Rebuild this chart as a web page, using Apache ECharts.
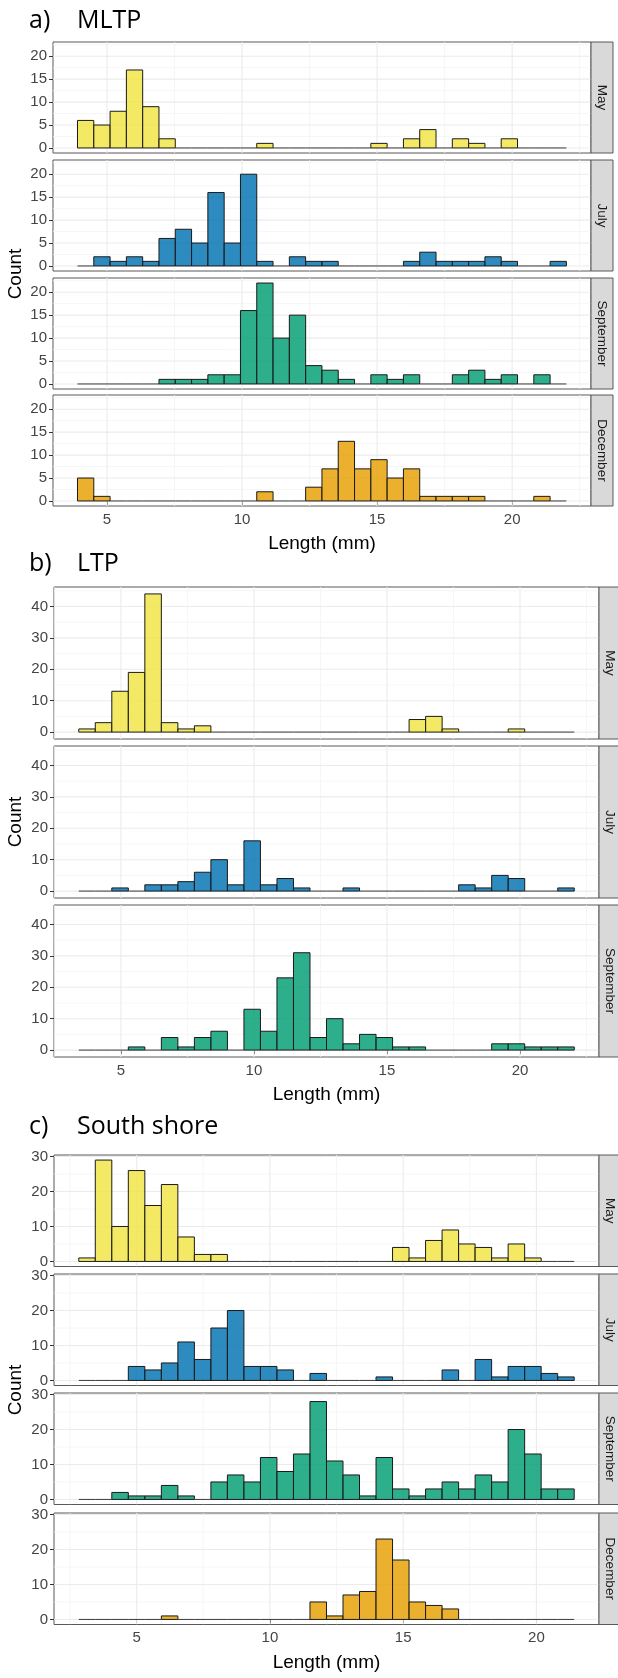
<!DOCTYPE html>
<html><head><meta charset="utf-8">
<script src="https://cdn.jsdelivr.net/npm/echarts@6/dist/echarts.min.js"></script>
<style>html,body{margin:0;padding:0;background:#fff}#c{width:618px;height:1678px}</style>
</head><body><div id="c"></div>
<script>
// ---------------- DATA ----------------
const monthsA = ['May', 'July', 'September', 'December'];
const monthsB = ['May', 'July', 'September'];
const monthsC = ['May', 'July', 'September', 'December'];

// histogram bin settings (30 bins per site)
const binStartA = 3.907, binWidthA = 0.6034;
const binStartB = 3.416, binWidthB = 0.6208;
const binStartC = 2.828, binWidthC = 0.6197;

const xTicks = [5, 10, 15, 20];
const xMinorTicks = [2.5, 7.5, 12.5, 17.5, 22.5];
const yTicksA = [0, 5, 10, 15, 20];
const yMinorA = [2.5, 7.5, 12.5, 17.5, 22.5];
const yTicksB = [0, 10, 20, 30, 40];
const yMinorB = [5, 15, 25, 35, 45];
const yTicksC = [0, 10, 20, 30];
const yMinorC = [5, 15, 25];

// a) MLTP
const mltpMay = [6,5,8,17,9,2,0,0,0,0,0,1,0,0,0,0,0,0,1,0,2,4,0,2,1,0,2,0,0,0];
const mltpJul = [0,2,1,2,1,6,8,5,16,5,20,1,0,2,1,1,0,0,0,0,1,3,1,1,1,2,1,0,0,1];
const mltpSep = [0,0,0,0,0,1,1,1,2,2,16,22,10,15,4,3,1,0,2,1,2,0,0,2,3,1,2,0,2,0];
const mltpDec = [5,1,0,0,0,0,0,0,0,0,0,2,0,0,3,7,13,7,9,5,7,1,1,1,1,0,0,0,1,0];
// b) LTP
const ltpMay = [1,3,13,19,44,3,1,2,0,0,0,0,0,0,0,0,0,0,0,0,4,5,1,0,0,0,1,0,0,0];
const ltpJul = [0,0,1,0,2,2,3,6,10,2,16,2,4,1,0,0,1,0,0,0,0,0,0,2,1,5,4,0,0,1];
const ltpSep = [0,0,0,1,0,4,1,4,6,0,13,6,23,31,4,10,2,5,4,1,1,0,0,0,0,2,2,1,1,1];
// c) South shore
const ssMay = [1,29,10,26,16,22,7,2,2,0,0,0,0,0,0,0,0,0,0,4,1,6,9,5,4,1,5,1,0,0];
const ssJul = [0,0,0,4,3,5,11,6,15,20,4,4,3,0,2,0,0,0,1,0,0,0,3,0,6,1,4,4,2,1];
const ssSep = [0,0,2,1,1,4,1,0,5,7,5,12,8,13,28,11,7,1,12,3,1,3,5,3,7,5,20,13,3,3];
const ssDec = [0,0,0,0,0,1,0,0,0,0,0,0,0,0,5,1,7,8,23,17,5,4,3,0,0,0,0,0,0,0];

const monthColors = { May: '#F0E442', July: '#0072B2', September: '#009E73', December: '#E69F00' };

// ---------------- LAYOUT ----------------
const sites = [
  { tag: 'a)', name: 'MLTP', months: monthsA, counts: [mltpMay, mltpJul, mltpSep, mltpDec],
    binStart: binStartA, binWidth: binWidthA, xRange: [3.0, 22.92], yRange: [-1.1, 23.1],
    yTicks: yTicksA, yMinor: yMinorA,
    left: 53, width: 538, tops: [42, 160, 278, 395], h: 111,
    titleY: 21, xLabelY: 544, countY: 274, stripW: 22 },
  { tag: 'b)', name: 'LTP', months: monthsB, counts: [ltpMay, ltpJul, ltpSep],
    binStart: binStartB, binWidth: binWidthB, xRange: [2.485, 22.97], yRange: [-2.2, 46.2],
    yTicks: yTicksB, yMinor: yMinorB,
    left: 54, width: 545, tops: [587, 746, 905], h: 152,
    titleY: 564, xLabelY: 1095, countY: 822, stripW: 21 },
  { tag: 'c)', name: 'South shore', months: monthsC, counts: [ssMay, ssJul, ssSep, ssDec],
    binStart: binStartC, binWidth: binWidthC, xRange: [1.898, 22.35], yRange: [-1.45, 30.45],
    yTicks: yTicksC, yMinor: yMinorC,
    left: 54, width: 545, tops: [1155, 1274, 1393, 1513], h: 111.5,
    titleY: 1127, xLabelY: 1663, countY: 1390, stripW: 21 }
];

function rgba(hex, a) {
  const n = parseInt(hex.slice(1), 16);
  return 'rgba(' + (n >> 16 & 255) + ',' + (n >> 8 & 255) + ',' + (n & 255) + ',' + a + ')';
}

function barRenderer(color) {
  const fill = rgba(color, 0.82);
  return function (params, api) {
    const x0 = api.value(0), x1 = api.value(1), c = api.value(2);
    const p0 = api.coord([x0, 0]);
    const p1 = api.coord([x1, c]);
    if (c === 0) {
      return { type: 'line', shape: { x1: p0[0], y1: p0[1], x2: p1[0], y2: p0[1] },
        style: { stroke: '#3a3a3a', lineWidth: 1 } };
    }
    return { type: 'rect',
      shape: { x: p0[0], y: p1[1], width: p1[0] - p0[0], height: p0[1] - p1[1] },
      style: { fill: fill, stroke: '#1a1a1a', lineWidth: 1 } };
  };
}

function gridRenderer(params, api) {
  const cs = params.coordSys;
  const o = api.value(0), v = api.value(1), minor = api.value(2);
  const style = { stroke: minor ? '#F4F4F4' : '#EBEBEB', lineWidth: minor ? 0.8 : 1.1 };
  if (o === 0) {
    const p = api.coord([v, 0]);
    return { type: 'line', shape: { x1: p[0], y1: cs.y, x2: p[0], y2: cs.y + cs.height }, style };
  }
  const p = api.coord([0, v]);
  return { type: 'line', shape: { x1: cs.x, y1: p[1], x2: cs.x + cs.width, y2: p[1] }, style };
}

const grids = [], xAxes = [], yAxes = [], series = [], graphics = [];
const FONT = "'Liberation Sans', Arial, sans-serif";

sites.forEach(site => {
  const n = site.months.length;
  site.months.forEach((m, k) => {
    const gi = grids.length;
    const top = site.tops[k];
    const isBottom = k === n - 1;
    grids.push({ left: site.left, top: top, width: site.width, height: site.h,
      show: true, borderColor: '#595959', borderWidth: 1, backgroundColor: '#fff', z: 0 });
    xAxes.push({ type: 'value', gridIndex: gi, min: site.xRange[0], max: site.xRange[1],
      splitLine: { show: false }, axisLine: { show: false },
      axisTick: { show: isBottom, length: 4, lineStyle: { color: '#333', width: 1 }, customValues: xTicks },
      axisLabel: { show: isBottom, customValues: xTicks, fontSize: 15, color: '#444', margin: 6, fontFamily: FONT } });
    yAxes.push({ type: 'value', gridIndex: gi, min: site.yRange[0], max: site.yRange[1],
      splitLine: { show: false }, axisLine: { show: false },
      axisTick: { show: true, length: 4, lineStyle: { color: '#333', width: 1 }, customValues: site.yTicks },
      axisLabel: { show: true, customValues: site.yTicks, fontSize: 15, color: '#444', margin: 6, fontFamily: FONT } });
    // grid lines
    const gl = [];
    xMinorTicks.forEach(v => gl.push([0, v, 1]));
    site.yMinor.forEach(v => gl.push([1, v, 1]));
    xTicks.forEach(v => gl.push([0, v, 0]));
    site.yTicks.forEach(v => gl.push([1, v, 0]));
    series.push({ type: 'custom', xAxisIndex: gi, yAxisIndex: gi, z: 1, silent: true,
      renderItem: gridRenderer, data: gl, clip: true });
    // histogram
    const counts = site.counts[k];
    const data = counts.map((c, i) => [site.binStart + i * site.binWidth, site.binStart + (i + 1) * site.binWidth, c]);
    series.push({ type: 'custom', xAxisIndex: gi, yAxisIndex: gi, z: 3, silent: true,
      renderItem: barRenderer(monthColors[m]), data: data });
    // strip
    const sx = site.left + site.width;
    graphics.push({ type: 'rect', x: sx, y: top, shape: { x: 0, y: 0, width: site.stripW, height: site.h },
      style: { fill: '#D9D9D9', stroke: '#595959', lineWidth: 1 }, z: 10 });
    graphics.push({ type: 'text', x: sx + site.stripW / 2, y: top + site.h / 2, rotation: -Math.PI / 2,
      style: { text: m, fontSize: 13.5, fill: '#1A1A1A', align: 'center', verticalAlign: 'middle', fontFamily: FONT }, z: 11 });
  });
  // titles
  graphics.push({ type: 'text', x: 29, y: site.titleY,
    style: { text: site.tag, fontSize: 25, fill: '#000', verticalAlign: 'middle', fontFamily: "'Open Sans', sans-serif" } });
  graphics.push({ type: 'text', x: 77, y: site.titleY,
    style: { text: site.name, fontSize: 25, fill: '#000', verticalAlign: 'middle', fontFamily: "'Open Sans', sans-serif" } });
  // axis titles
  graphics.push({ type: 'text', x: site.left + site.width / 2, y: site.xLabelY,
    style: { text: 'Length (mm)', fontSize: 19, fill: '#000', align: 'center', verticalAlign: 'middle', fontFamily: FONT } });
  graphics.push({ type: 'text', x: 16, y: site.countY, rotation: Math.PI / 2,
    style: { text: 'Count', fontSize: 19, fill: '#000', align: 'center', verticalAlign: 'middle', fontFamily: FONT } });
});

const chart = echarts.init(document.getElementById('c'), null, { renderer: 'canvas' });
chart.setOption({
  animation: false,
  backgroundColor: '#fff',
  grid: grids, xAxis: xAxes, yAxis: yAxes, series: series, graphic: graphics
});
</script></body></html>
